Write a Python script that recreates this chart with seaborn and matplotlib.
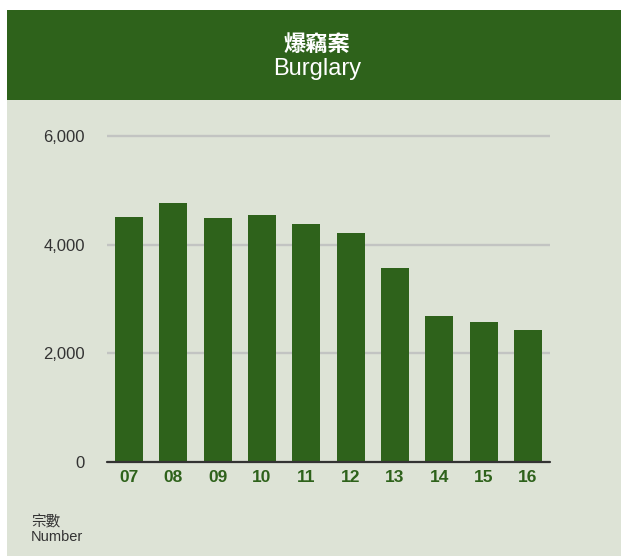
import matplotlib
matplotlib.use("Agg")
import matplotlib.pyplot as plt
from matplotlib.patches import Rectangle
from matplotlib.ticker import FuncFormatter
import seaborn as sns
import pandas as pd

# Burglary cases per year
years = ["07", "08", "09", "10", "11", "12", "13", "14", "15", "16"]
cases = [4510, 4770, 4490, 4550, 4380, 4215, 3570, 2690, 2580, 2430]
y_ticks = [0, 2000, 4000, 6000]

title_zh = "爆竊案"
title_en = "Burglary"
unit_label = "宗數\nNumber"

GREEN = "#2e621b"
PANEL = "#dde3d6"
GRID = "#c2c4c2"
TEXT = "#333333"

sns.set_theme(style="white")
plt.rcParams["font.family"] = ["Liberation Sans", "Noto Sans CJK TC", "DejaVu Sans"]

W, H = 621, 556
fig = plt.figure(figsize=(W / 100, H / 100), dpi=100, facecolor="white")


def fx(px):
    return px / W


def fy(py):
    return 1 - py / H


# panel background and header band, kept beneath the axes
fig.patches.append(Rectangle((fx(7), 0), 1 - fx(7), fy(10), transform=fig.transFigure,
                             facecolor=PANEL, edgecolor="none", zorder=-2))
fig.patches.append(Rectangle((fx(7), fy(100)), 1 - fx(7), fy(10) - fy(100),
                             transform=fig.transFigure, facecolor=GREEN,
                             edgecolor="none", zorder=-1))

fig.text(fx(317), fy(44), title_zh, ha="center", va="center", color="white",
         fontsize=16, family=["Noto Sans CJK TC", "DejaVu Sans"], fontweight="bold")
fig.text(fx(317), fy(75), title_en, ha="center", va="baseline", color="white",
         fontsize=17)

# plot area
top_px, bot_px = 130, 462
ymax = 6000 * (bot_px - top_px) / (bot_px - 136)
ax = fig.add_axes([fx(107), fy(bot_px), fx(550) - fx(107), fy(top_px) - fy(bot_px)])
ax.set_facecolor("none")

df = pd.DataFrame({"year": years, "cases": cases})
sns.barplot(data=df, x="year", y="cases", color=GREEN, saturation=1, width=0.63,
            edgecolor="none", linewidth=0, ax=ax, zorder=3)

ax.set_xlim(-0.5, len(years) - 0.5)
ax.set_ylim(0, ymax)
ax.set_yticks(y_ticks)
ax.yaxis.set_major_formatter(FuncFormatter(lambda v, p: f"{int(v):,}"))
for v in y_ticks[1:]:
    ax.axhline(v, color=GRID, lw=1.7, zorder=1)
ax.axhline(0, color="#333333", lw=1.6, zorder=4, clip_on=False)

for s in ax.spines.values():
    s.set_visible(False)
ax.grid(False)
ax.set_xlabel("")
ax.set_ylabel("")
ax.tick_params(axis="y", length=0, pad=16, labelsize=12, labelcolor=TEXT)
ax.tick_params(axis="x", length=0, pad=6, labelsize=12.5, labelcolor=GREEN)
for lab in ax.get_xticklabels():
    lab.set_fontweight("bold")

fig.text(fx(31), fy(541), unit_label, ha="left", va="baseline", color=TEXT,
         fontsize=10.5, linespacing=1.05)

fig.savefig("out.png", dpi=100, facecolor="white")
